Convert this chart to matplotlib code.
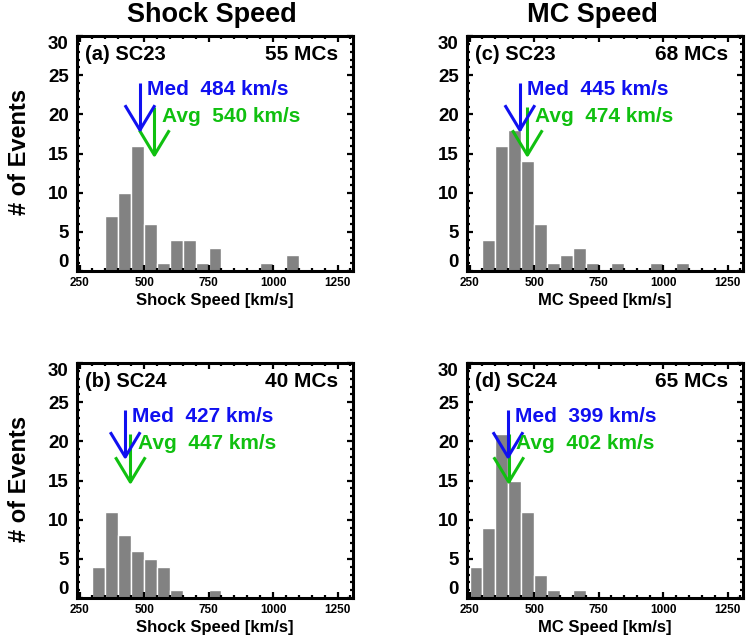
import numpy as np
import matplotlib.pyplot as plt

plt.rcParams['font.family'] = ['Liberation Sans', 'DejaVu Sans']
plt.rcParams['font.weight'] = 'bold'

# histogram bins (lower edges, km/s), width 50
bin_lo = np.arange(250, 1150, 50)
sc23_shock = [0, 0, 7, 10, 16, 6, 1, 4, 4, 1, 3, 0, 0, 0, 1, 0, 2, 0]
sc24_shock = [0, 4, 11, 8, 6, 5, 4, 1, 0, 0, 1, 0, 0, 0, 0, 0, 0, 0]
sc23_mc = [0, 4, 16, 18, 14, 6, 1, 2, 3, 1, 0, 1, 0, 0, 1, 0, 1, 0]
sc24_mc = [4, 9, 21, 15, 11, 3, 1, 0, 1, 0, 0, 0, 0, 0, 0, 0, 0, 0]

panel_tags = ['(a) SC23', '(b) SC24', '(c) SC23', '(d) SC24']
n_mcs = [55, 40, 68, 65]
medians = [484, 427, 445, 399]
averages = [540, 447, 474, 402]
xlabels = ['Shock Speed [km/s]', 'Shock Speed [km/s]', 'MC Speed [km/s]', 'MC Speed [km/s]']
counts = [sc23_shock, sc24_shock, sc23_mc, sc24_mc]

W, H = 746, 642
fig = plt.figure(figsize=(W / 100, H / 100), dpi=100)

# axes boxes in pixels: left, top, right, bottom
boxes = [(77, 36, 353, 271), (77, 363, 353, 598), (467, 36, 743, 271), (467, 363, 743, 598)]

BLUE = '#1010f0'
GREEN = '#10c010'


def down_arrow(ax, x, y0, y1, color):
    ax.plot([x, x], [y0, y1], color=color, lw=2.2, solid_capstyle='butt')
    ax.plot([x - 55, x, x + 55], [y1 + 3.0, y1, y1 + 3.0], color=color, lw=2.2)


for i in range(4):
    l, t, r, b = boxes[i]
    ax = fig.add_axes([l / W, 1 - b / H, (r - l) / W, (b - t) / H])
    ax.bar(bin_lo, counts[i], width=50, align='edge', color='#828282',
           edgecolor='white', linewidth=1)
    ax.set_xlim(240, 1310)
    ax.set_ylim(0, 30)
    ax.set_xticks([250, 500, 750, 1000, 1250])
    ax.set_xticks(np.arange(250, 1301, 50), minor=True)
    ax.set_yticks(np.arange(0, 31, 5))
    ax.set_yticks(np.arange(0, 31, 1), minor=True)
    for s in ax.spines.values():
        s.set_linewidth(2.2)
    ax.tick_params(which='both', direction='in', top=True, right=True, width=1.6)
    ax.tick_params(which='major', length=4.5)
    ax.tick_params(which='minor', length=2.2)
    ax.tick_params(axis='x', labelsize=8.5, pad=4.5)
    ax.tick_params(axis='y', labelsize=13.5, pad=6)
    for lab in ax.get_xticklabels():
        lab.set_fontweight('bold')
    ylabs = ax.get_yticklabels()
    for lab in ylabs:
        lab.set_fontweight('bold')
    ylabs[0].set_va('bottom')
    ylabs[-1].set_va('top')

    ax.set_xlabel(xlabels[i], fontsize=12, fontweight='bold')
    ax.xaxis.set_label_coords(0.5, -0.095)

    ax.text(0.03, 0.898, panel_tags[i], transform=ax.transAxes, fontsize=14.5,
            fontweight='bold', va='baseline', ha='left')
    ax.text(0.946, 0.898, f'{n_mcs[i]} MCs', transform=ax.transAxes, fontsize=15,
            fontweight='bold', va='baseline', ha='right')

    down_arrow(ax, averages[i], 21, 14.8, GREEN)
    down_arrow(ax, medians[i], 24, 18, BLUE)
    ax.text(medians[i] + 28, 22.5, f'Med  {medians[i]} km/s', color=BLUE,
            fontsize=15, fontweight='bold', va='baseline')
    ax.text(averages[i] + 28, 19.0, f'Avg  {averages[i]} km/s', color=GREEN,
            fontsize=15, fontweight='bold', va='baseline')

    if i < 2:
        fig.text(20 / W, 1 - ((t + b) / 2 - 2) / H, '# of Events', rotation=90,
                 fontsize=17, fontweight='bold', ha='center', va='center')

fig.text(212 / W, 1 - 22 / H, 'Shock Speed', fontsize=19.5, fontweight='bold',
         ha='center', va='baseline')
fig.text(592 / W, 1 - 22 / H, 'MC Speed', fontsize=19.5, fontweight='bold',
         ha='center', va='baseline')

fig.savefig('out.png', dpi=100)
